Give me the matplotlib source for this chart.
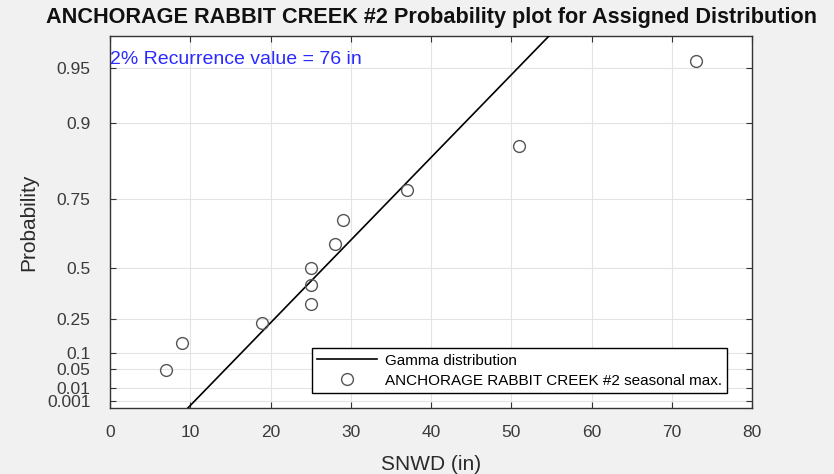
import numpy as np
import matplotlib
matplotlib.use("Agg")
import matplotlib.pyplot as plt
from statistics import NormalDist

plt.rcParams["font.family"] = ["Liberation Sans", "DejaVu Sans"]

# 관측 계절 최대 적설심 (in), 플로팅 위치 (i-0.5)/n
snwd = np.array([7, 9, 19, 25, 25, 25, 28, 29, 37, 51, 73])
n = len(snwd)
plot_pos = (np.arange(1, n + 1) - 0.5) / n

# 확률 눈금과 적합 Gamma 분포의 분위수 (in)
tick_probs = [0.001, 0.01, 0.05, 0.1, 0.25, 0.5, 0.75, 0.9, 0.95]
tick_labels = ["0.001", "0.01", "0.05", "0.1", "0.25", "0.5", "0.75", "0.9", "0.95"]
gamma_q = [10.55, 12.12, 14.42, 16.35, 20.47, 26.64, 34.99, 44.19, 50.84]

title = "ANCHORAGE RABBIT CREEK #2 Probability plot for Assigned Distribution"
note = "2% Recurrence value = 76 in"

nd = NormalDist()
z_anchor = np.array([nd.inv_cdf(p) for p in tick_probs])
q_anchor = np.array(gamma_q)


def prob_to_q(p):
    """확률 -> Gamma 분위수 축 (probit 기준 구간선형, 양끝 외삽)"""
    z = np.array([nd.inv_cdf(v) for v in np.atleast_1d(p)])
    out = np.interp(z, z_anchor, q_anchor)
    hi = z > z_anchor[-1]
    slope = (q_anchor[-1] - q_anchor[-2]) / (z_anchor[-1] - z_anchor[-2])
    out[hi] = q_anchor[-1] + (z[hi] - z_anchor[-1]) * slope
    return out


fig = plt.figure(figsize=(8.34, 4.74), dpi=100)
fig.patch.set_facecolor("#f1f1f1")
ax = fig.add_axes([0.1319, 0.1392, 0.7698, 0.7849])
ax.set_facecolor("white")

xs = np.array([0, 80])
ax.plot(xs, xs, color="black", linewidth=1.2, label="Gamma distribution", zorder=3)
ax.plot(snwd, prob_to_q(plot_pos), linestyle="none", marker="o", markersize=8.5,
        markerfacecolor="none", markeredgecolor="#555555", markeredgewidth=1.0,
        label="ANCHORAGE RABBIT CREEK #2 seasonal max.", zorder=4)

ax.set_xlim(0, 80)
ax.set_ylim(9.7, 54.7)
ax.set_xticks(np.arange(0, 81, 10))
ax.set_yticks(gamma_q)
ax.set_yticklabels(tick_labels)
ax.grid(True, color="#e3e3e3", linewidth=0.8)
ax.set_axisbelow(True)
ax.tick_params(direction="in", top=True, right=True, length=4, width=0.8,
               labelsize=12.5, labelcolor="#3a3a3a", color="#333333")
ax.tick_params(axis="y", pad=14)
ax.tick_params(axis="x", pad=12)
for s in ax.spines.values():
    s.set_color("#333333")
    s.set_linewidth(1.0)

ax.set_xlabel("SNWD (in)", fontsize=15, color="#2a2a2a", labelpad=11)
ax.set_ylabel("Probability", fontsize=15, color="#2a2a2a", labelpad=6)
ax.set_title(title, fontsize=15.6, fontweight="bold", color="#111111", pad=9)

ax.text(0.0, 0.937, note, transform=ax.transAxes, color="#2b2bff",
        fontsize=14, va="center", ha="left")

leg = ax.legend(loc="lower right", bbox_to_anchor=(0.961, 0.04), fontsize=11,
                frameon=True, fancybox=False, framealpha=1, edgecolor="black",
                borderpad=0.35, handlelength=3.9, labelspacing=0.4,
                handletextpad=0.5, borderaxespad=0)
leg.get_frame().set_linewidth(1.0)

fig.savefig("out.png", dpi=100, facecolor=fig.get_facecolor())
